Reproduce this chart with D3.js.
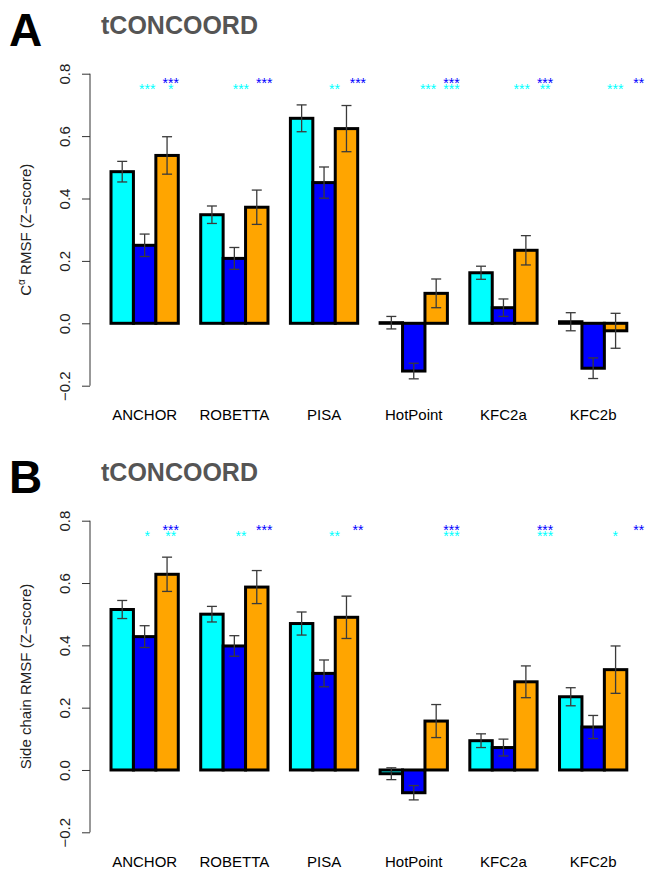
<!DOCTYPE html>
<meta charset="utf-8">
<head>
    <script src="https://d3js.org/d3.v7.min.js"></script>
    <style>
    body { margin: 0; background: white; }
    svg { font-family: "Liberation Sans", Arial, sans-serif; display: block; }
    .tick text { font-size: 15px; fill: #222; }
    .tick line, .domain { stroke: #333; }
    </style>
</head>
<body>
<svg id="chart"></svg>
<script>
// categories and series
var categories = ["ANCHOR", "ROBETTA", "PISA", "HotPoint", "KFC2a", "KFC2b"];
var seriesNames = ["cyan", "blue", "orange"];
var seriesColors = ["#00FFFF", "#0000FF", "#FFA500"];
var yTicks = [-0.2, 0.0, 0.2, 0.4, 0.6, 0.8];

// panel A: C-alpha RMSF
var cyanA   = [0.486, 0.348, 0.657, 0.002, 0.162, 0.005];
var blueA   = [0.250, 0.208, 0.451, -0.153, 0.050, -0.144];
var orangeA = [0.538, 0.372, 0.624, 0.096, 0.234, -0.024];
var cyanErrA   = [0.033, 0.028, 0.043, 0.020, 0.021, 0.029];
var blueErrA   = [0.036, 0.035, 0.050, 0.025, 0.028, 0.033];
var orangeErrA = [0.060, 0.055, 0.074, 0.046, 0.047, 0.056];
var starsCyan1A = ["***", "***", "**", "***", "***", "***"];
var starsCyan2A = ["*", "", "", "***", "**", ""];
var starsBlue2A = ["***", "***", "***", "***", "***", "**"];

// panel B: side chain RMSF
var cyanB   = [0.515, 0.500, 0.470, -0.012, 0.094, 0.235];
var blueB   = [0.428, 0.398, 0.310, -0.073, 0.072, 0.138];
var orangeB = [0.628, 0.587, 0.490, 0.157, 0.283, 0.322];
var cyanErrB   = [0.029, 0.025, 0.037, 0.019, 0.022, 0.029];
var blueErrB   = [0.035, 0.033, 0.043, 0.023, 0.027, 0.037];
var orangeErrB = [0.055, 0.053, 0.068, 0.053, 0.051, 0.076];
var starsCyan1B = ["*", "**", "**", "", "", "*"];
var starsCyan2B = ["**", "", "", "***", "***", ""];
var starsBlue2B = ["***", "***", "**", "***", "***", "**"];

var svg = d3.select("#chart").attr("width", 646).attr("height", 870);

// group positions (3 bars + 1 bar gap)
var x0 = d3.scaleBand().domain(categories).range([111, 111 + 6 * 89.7 - 22.4]).paddingInner(0.25);
var x1 = d3.scaleBand().domain(seriesNames).range([0, x0.bandwidth()]);
// significance stars sit on their own slightly wider grid
var starX = d3.scaleLinear().domain([0, 5]).range([147.3, 147.3 + 5 * 93.6]);
var starStep = 23.4;

function drawPanel(cfg) {
    var y = d3.scaleLinear().domain([-0.2, 0.8]).range([cfg.bottom, cfg.top]);
    var g = svg.append("g");

    // panel letter and title
    g.append("text").attr("x", 9).attr("y", cfg.top - 28)
        .style("font-size", "46px").style("font-weight", "bold").text(cfg.letter);
    g.append("text").attr("x", 101).attr("y", cfg.top - 39.5)
        .style("font-size", "25px").style("font-weight", "bold").style("fill", "#555")
        .text("tCONCOORD");

    // y axis
    var ax = g.append("g").attr("transform", "translate(90,0)")
        .call(d3.axisLeft(y).tickValues(yTicks).tickFormat(d3.format(".1f")).tickSize(8).tickSizeOuter(0));
    ax.select(".domain").attr("d", "M0," + y(0.8) + "V" + y(-0.2));
    ax.selectAll(".tick text")
        .attr("x", 0).attr("dy", null).attr("y", -20.5)
        .attr("transform", "rotate(-90)")
        .attr("text-anchor", "middle");

    // y label
    var lab = g.append("text")
        .attr("transform", "translate(31," + ((cfg.top + cfg.bottom) / 2) + ") rotate(-90)")
        .attr("text-anchor", "middle").style("font-size", "15px").style("fill", "#222");
    cfg.yLabel(lab);

    // bars
    var rows = [];
    categories.forEach(function(c, i) {
        cfg.values.forEach(function(vals, s) {
            rows.push({cat: c, i: i, s: seriesNames[s], color: seriesColors[s], v: vals[i], e: cfg.errs[s][i]});
        });
    });

    g.selectAll("rect.bar").data(rows).enter().append("rect")
        .attr("class", "bar")
        .attr("x", function(d) { return x0(d.cat) + x1(d.s); })
        .attr("width", x1.bandwidth())
        .attr("y", function(d) { return y(Math.max(0, d.v)); })
        .attr("height", function(d) { return Math.abs(y(d.v) - y(0)); })
        .attr("fill", function(d) { return d.color; })
        .attr("stroke", "black").attr("stroke-width", 3);

    // error bars
    var eb = g.selectAll("g.err").data(rows).enter().append("g")
        .attr("class", "err")
        .attr("stroke", "#3a3a3a").attr("stroke-width", 1.3);
    var cx = function(d) { return x0(d.cat) + x1(d.s) + x1.bandwidth() / 2; };
    eb.append("line")
        .attr("x1", cx).attr("x2", cx)
        .attr("y1", function(d) { return y(d.v + d.e); })
        .attr("y2", function(d) { return y(d.v - d.e); });
    [1, -1].forEach(function(sign) {
        eb.append("line")
            .attr("x1", function(d) { return cx(d) - 5; })
            .attr("x2", function(d) { return cx(d) + 5; })
            .attr("y1", function(d) { return y(d.v + sign * d.e); })
            .attr("y2", function(d) { return y(d.v + sign * d.e); });
    });

    // category labels
    g.selectAll("text.cat").data(categories).enter().append("text")
        .attr("class", "cat")
        .attr("x", function(d) { return x0(d) + x0.bandwidth() / 2; })
        .attr("y", cfg.labelY)
        .attr("text-anchor", "middle").style("font-size", "15px")
        .text(function(d) { return d; });

    // significance stars
    var starSets = [
        {txt: cfg.stars[0], col: 0, color: "#00FFFF", dy: 20.5},
        {txt: cfg.stars[1], col: 1, color: "#00FFFF", dy: 20.5},
        {txt: cfg.stars[2], col: 1, color: "#0000FF", dy: 14}
    ];
    starSets.forEach(function(st) {
        g.selectAll(null).data(st.txt).enter().append("text")
            .attr("x", function(d, i) { return starX(i) + st.col * starStep; })
            .attr("y", y(0.8) + st.dy)
            .attr("text-anchor", "middle")
            .style("font-size", "14px").style("fill", st.color)
            .text(function(d) { return d; });
    });
}

drawPanel({
    letter: "A", top: 73.7, bottom: 385.7, labelY: 420,
    values: [cyanA, blueA, orangeA], errs: [cyanErrA, blueErrA, orangeErrA],
    stars: [starsCyan1A, starsCyan2A, starsBlue2A],
    yLabel: function(t) {
        t.append("tspan").text("C");
        t.append("tspan").attr("dy", -6).style("font-size", "10px").text("\u03b1");
        t.append("tspan").attr("dy", 6).text(" RMSF (Z\u2212score)");
    }
});

drawPanel({
    letter: "B", top: 520.7, bottom: 832.3, labelY: 867,
    values: [cyanB, blueB, orangeB], errs: [cyanErrB, blueErrB, orangeErrB],
    stars: [starsCyan1B, starsCyan2B, starsBlue2B],
    yLabel: function(t) { t.text("Side chain RMSF (Z\u2212score)"); }
});
</script>
</body>
